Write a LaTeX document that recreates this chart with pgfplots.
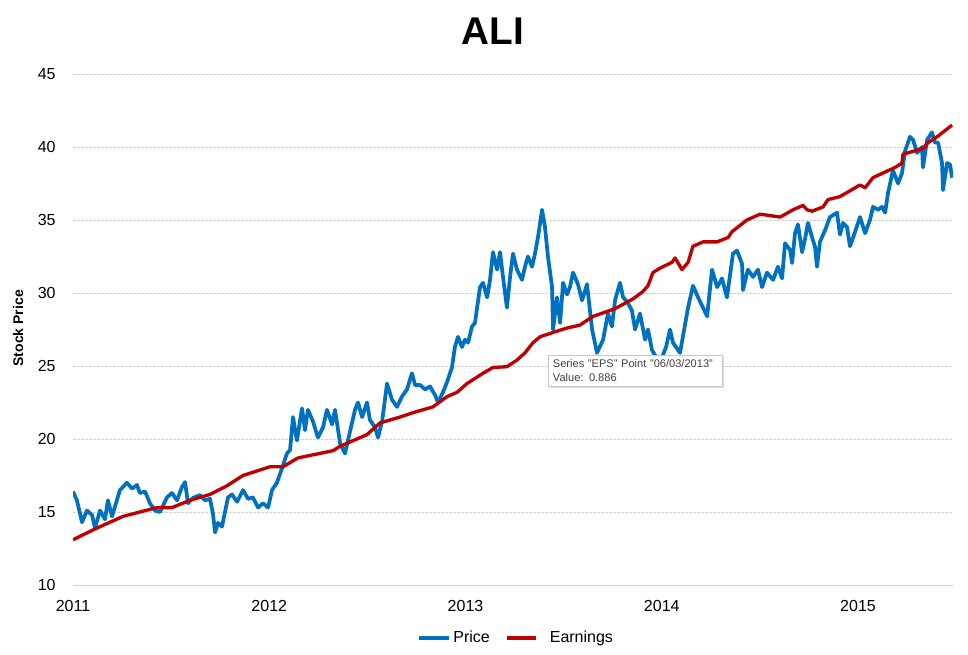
\documentclass[border=0pt]{standalone}
\usepackage{fontspec}
\setmainfont{Liberation Sans}
\usepackage{pgfplots}
\pgfplotsset{compat=1.18}
\usetikzlibrary{shadows}
\definecolor{priceblue}{RGB}{0,112,192}
\definecolor{epsred}{RGB}{192,0,0}
\definecolor{gridgray}{RGB}{212,212,212}

\begin{document}
\begin{tikzpicture}
\path[use as bounding box] (0,0) rectangle (726pt,491.25pt);
\begin{axis}[
    at={(54.75pt,52.5pt)}, anchor=south west,
    scale only axis,
    width=660pt, height=383.25pt,
    xmin=2011, xmax=2015.484,
    ymin=10, ymax=45,
    xtick={2011,2012,2013,2014,2015},
    xticklabels={2011,2012,2013,2014,2015},
    ytick={10,15,...,45},
    /pgf/number format/assume math mode=true,
    tick label style={font=\fontsize{12}{14}\selectfont},
    xticklabel style={yshift=-8pt},
    yticklabel style={xshift=-9.5pt},
    axis lines=left,
    axis line style={-},
    x axis line style={draw=gridgray, line width=0.7pt},
    y axis line style={draw=none},
    tick style={draw=none},
    major tick length=0pt,
    ymajorgrids,
    grid style={gridgray, dash pattern=on 2pt off 1pt, line width=0.4pt},
    legend style={at={(0.504,-0.1037)}, anchor=center, draw=none,
        font=\fontsize{12}{14}\selectfont,
        nodes={inner xsep=2pt},
        /tikz/every even column/.append style={column sep=9pt}},
    legend columns=2,
    legend image code/.code={\draw[#1, line width=3pt] (0pt,0pt) -- (22pt,0pt);},
]
\addplot[priceblue, line width=2.8pt, line join=round] coordinates {
(2011.000,16.4) (2011.020,15.8) (2011.046,14.3) (2011.071,15.1) (2011.097,14.8)
(2011.112,13.9) (2011.138,15.1) (2011.163,14.5) (2011.178,15.8) (2011.199,14.7)
(2011.239,16.5) (2011.275,17.0) (2011.301,16.6) (2011.326,16.85) (2011.341,16.3)
(2011.367,16.4) (2011.392,15.6) (2011.418,15.1) (2011.443,15.0) (2011.479,16.0)
(2011.504,16.3) (2011.530,15.8) (2011.555,16.7) (2011.571,17.05) (2011.586,15.6)
(2011.611,15.96) (2011.647,16.16) (2011.673,15.8) (2011.698,15.9) (2011.713,14.9)
(2011.724,13.6) (2011.739,14.25) (2011.759,14.0) (2011.790,16.0) (2011.810,16.2)
(2011.836,15.7) (2011.866,16.5) (2011.892,15.9) (2011.917,16.0) (2011.943,15.3)
(2011.968,15.6) (2011.994,15.3) (2012.014,16.5) (2012.039,17.0) (2012.065,18.0)
(2012.090,19.0) (2012.106,19.25) (2012.121,21.5) (2012.141,19.9) (2012.167,22.1)
(2012.182,20.6) (2012.197,22.0) (2012.223,21.2) (2012.248,20.1) (2012.274,20.8)
(2012.294,22.0) (2012.320,21.0) (2012.335,22.0) (2012.361,19.7) (2012.386,19.0)
(2012.401,19.9) (2012.437,22.0) (2012.452,22.5) (2012.473,21.5) (2012.498,22.5)
(2012.513,21.3) (2012.539,20.8) (2012.554,20.1) (2012.575,21.2) (2012.600,23.8)
(2012.625,22.7) (2012.651,22.2) (2012.676,22.9) (2012.702,23.4) (2012.727,24.5)
(2012.743,23.7) (2012.768,23.7) (2012.794,23.4) (2012.819,23.6) (2012.845,23.0)
(2012.860,22.5) (2012.885,23.2) (2012.906,23.9) (2012.931,24.9) (2012.946,26.3)
(2012.962,27.0) (2012.982,26.3) (2012.997,26.8) (2013.013,26.6) (2013.033,27.7)
(2013.048,27.95) (2013.074,30.4) (2013.089,30.7) (2013.110,29.7) (2013.125,30.9)
(2013.140,32.8) (2013.161,31.6) (2013.176,32.8) (2013.191,31.1) (2013.211,29.0)
(2013.227,31.1) (2013.242,32.7) (2013.262,31.6) (2013.288,30.9) (2013.303,31.8)
(2013.318,32.5) (2013.339,31.8) (2013.354,32.7) (2013.369,33.8) (2013.390,35.7)
(2013.405,34.5) (2013.420,32.5) (2013.441,30.4) (2013.446,27.5) (2013.466,29.7)
(2013.482,27.95) (2013.497,30.7) (2013.517,29.9) (2013.532,30.4) (2013.548,31.4)
(2013.573,30.6) (2013.594,29.5) (2013.619,30.6) (2013.645,27.5) (2013.670,25.9)
(2013.701,26.8) (2013.726,28.6) (2013.746,27.7) (2013.762,29.5) (2013.787,30.7)
(2013.803,29.7) (2013.823,29.4) (2013.848,28.8) (2013.864,27.5) (2013.889,28.6)
(2013.915,26.8) (2013.930,27.5) (2013.950,26.1) (2013.971,25.6) (2014.001,25.6)
(2014.022,26.3) (2014.042,27.5) (2014.057,26.6) (2014.093,25.9) (2014.134,29.0)
(2014.159,30.5) (2014.185,29.7) (2014.210,29.0) (2014.231,28.4) (2014.256,31.6)
(2014.282,30.4) (2014.307,31.0) (2014.332,29.7) (2014.363,32.7) (2014.383,32.9)
(2014.409,32.0) (2014.414,30.2) (2014.439,31.6) (2014.465,31.1) (2014.490,31.6)
(2014.511,30.4) (2014.536,31.4) (2014.567,30.9) (2014.592,31.8) (2014.613,31.0)
(2014.628,33.4) (2014.654,32.95) (2014.664,32.05) (2014.679,34.1) (2014.694,34.7)
(2014.715,32.8) (2014.730,33.7) (2014.745,34.8) (2014.766,33.8) (2014.781,33.15)
(2014.791,31.8) (2014.806,33.5) (2014.832,34.3) (2014.857,35.2) (2014.893,35.5)
(2014.908,34.0) (2014.924,34.8) (2014.944,34.5) (2014.959,33.2) (2014.975,33.8)
(2015.010,35.2) (2015.036,34.1) (2015.061,35.0) (2015.076,35.9) (2015.102,35.7)
(2015.122,35.9) (2015.138,35.5) (2015.153,36.85) (2015.178,38.4) (2015.204,37.5)
(2015.224,38.2) (2015.239,39.7) (2015.265,40.7) (2015.280,40.5) (2015.301,39.6)
(2015.326,40.0) (2015.331,38.6) (2015.352,40.5) (2015.377,41.0) (2015.392,40.3)
(2015.408,40.3) (2015.428,38.9) (2015.433,37.05) (2015.454,38.9) (2015.469,38.8)
(2015.479,37.9)
};
\addlegendentry{Price}
\addplot[epsred, line width=2.5pt, line join=round] coordinates {
(2011.000,13.1) (2011.122,13.9) (2011.255,14.7) (2011.341,15.0) (2011.428,15.3)
(2011.504,15.3) (2011.596,15.8) (2011.698,16.2) (2011.785,16.8) (2011.866,17.5)
(2012.004,18.1) (2012.070,18.1) (2012.146,18.7) (2012.325,19.2) (2012.361,19.5)
(2012.498,20.3) (2012.564,21.1) (2012.666,21.5) (2012.732,21.8) (2012.834,22.2)
(2012.906,22.9) (2012.957,23.2) (2013.008,23.8) (2013.089,24.5) (2013.140,24.9)
(2013.211,24.95) (2013.262,25.4) (2013.303,25.9) (2013.344,26.6) (2013.380,27.0)
(2013.446,27.3) (2013.517,27.6) (2013.583,27.8) (2013.650,28.4) (2013.736,28.8)
(2013.772,29.0) (2013.854,29.6) (2013.904,30.1) (2013.930,30.5) (2013.955,31.4)
(2013.991,31.7) (2014.052,32.1) (2014.068,32.4) (2014.103,31.6) (2014.134,32.1)
(2014.159,33.2) (2014.210,33.5) (2014.282,33.5) (2014.338,33.8) (2014.358,34.2)
(2014.434,35.0) (2014.501,35.4) (2014.603,35.2) (2014.669,35.7) (2014.720,36.0)
(2014.740,35.7) (2014.766,35.6) (2014.822,35.9) (2014.847,36.4) (2014.908,36.6)
(2015.010,37.4) (2015.036,37.2) (2015.076,37.9) (2015.189,38.6) (2015.224,38.9)
(2015.229,39.5) (2015.280,39.7) (2015.331,39.9) (2015.357,40.3) (2015.403,40.7)
(2015.479,41.5)
};
\addlegendentry{\hspace{7pt}Earnings}
\end{axis}
\node[font=\bfseries\fontsize{29}{32}\selectfont] at (369.75pt,468pt) {ALI};
\node[font=\bfseries\fontsize{10.5}{12}\selectfont, rotate=90] at (13.5pt,245pt) {Stock Price};
\node[draw=gray!45, fill=white,
      drop shadow={opacity=0.25, shadow xshift=1.5pt, shadow yshift=-1.5pt},
      anchor=north west, inner xsep=3.5pt, inner ysep=3pt,
      text width=123.5pt, align=left, text=black!75,
      font=\fontsize{8.3}{11}\selectfont] at (411pt,225pt)
      {Series "EPS" Point "06/03/2013"\\Value: 0.886};
\end{tikzpicture}
\end{document}
